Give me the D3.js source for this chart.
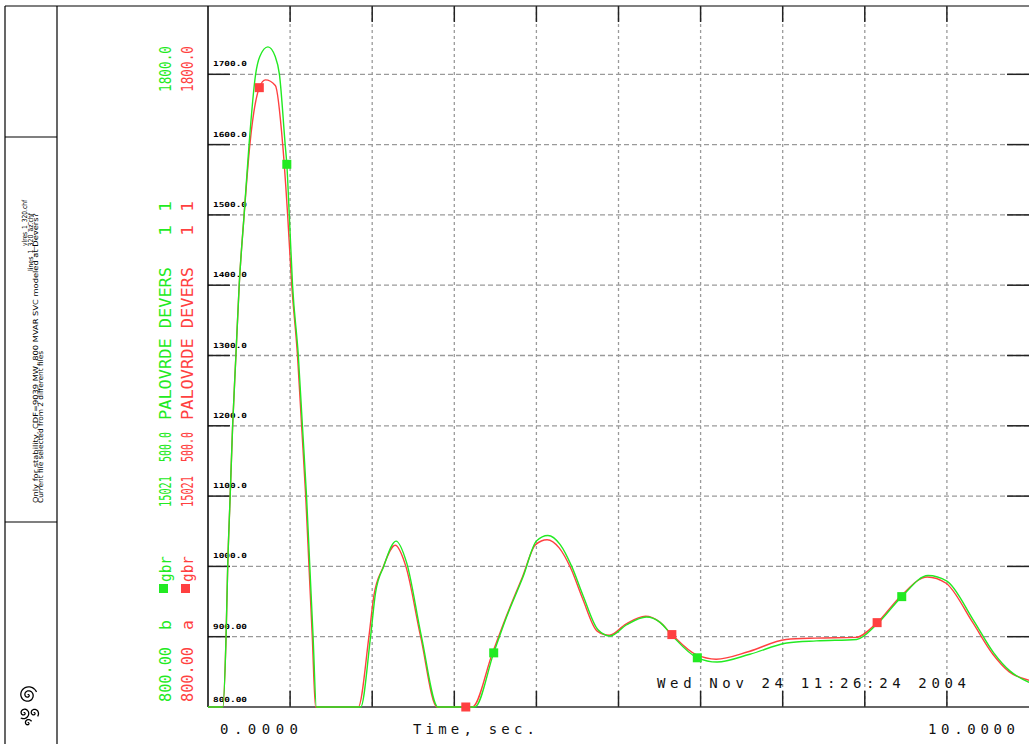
<!DOCTYPE html>
<html>
<head>
<meta charset="utf-8">
<script src="https://cdn.jsdelivr.net/npm/d3@7"></script>
<style>
body { margin: 0; background: #fff; }
svg { display: block; }
</style>
</head>
<body>
<div id="chart"></div>
<script>
// ---- data ----
const greenTime = [0,0.18,0.22,0.24,0.27,0.30,0.34,0.38,0.44,0.50,0.58,0.63,0.73,0.82,0.87,0.94,0.96,0.99,1.03,1.10,1.15,1.20,1.24,1.28,1.32,1.86,1.98,2.04,2.14,2.29,2.42,2.60,2.80,3.25,3.48,3.64,3.84,4.00,4.14,4.29,4.43,4.57,4.75,4.90,5.10,5.34,5.51,5.65,5.96,6.20,6.60,7.05,7.41,7.90,8.15,8.45,8.77,9.00,9.32,9.57,9.77,10.0]
const greenValue = [800,800,900,1000,1100,1200,1300,1400,1500,1600,1700,1725,1739,1725,1700,1600,1572,1500,1400,1300,1200,1100,1000,900,800,800,900,962,1000,1036,1005,900,800,800,877,929,986,1036,1044,1031,1000,958,910,901,917,928,920,902,870,864,875,891,894,896,918,957,987,979,924,877,851,835]

const redTime = [0,0.18,0.22,0.24,0.27,0.30,0.34,0.38,0.44,0.51,0.625,0.70,0.82,0.91,0.97,1.02,1.09,1.14,1.19,1.23,1.27,1.31,1.83,1.96,2.02,2.13,2.28,2.41,2.59,2.79,3.14,3.22,3.46,3.63,3.83,3.99,4.13,4.28,4.42,4.56,4.74,4.89,5.09,5.33,5.50,5.65,5.95,6.19,6.59,7.04,7.40,7.89,8.15,8.44,8.76,8.99,9.31,9.56,9.76,10.0]
const redValue = [800,800,900,1000,1100,1200,1300,1400,1500,1600,1681,1692,1684,1600,1500,1400,1300,1200,1100,1000,900,800,800,900,958,998,1030,1000,900,800,800,800,875,928,985,1031,1038,1026,997,955,908,902,918,929,921,903,874,868,879,896,898,899,920,958,985,976,921,875,850,838]

const greenMarkTime = [0.96, 3.48, 5.96, 8.45]
const greenMarkValue = [1572, 877, 870, 957]
const redMarkTime = [0.625, 3.14, 5.65, 8.15]
const redMarkValue = [1681, 800, 903, 920]

const yTicks = [800,900,1000,1100,1200,1300,1400,1500,1600,1700]
const yTickLabels = ["800.00","900.00","1000.0","1100.0","1200.0","1300.0","1400.0","1500.0","1600.0","1700.0"]
const xTicks = [1,2,3,4,5,6,7,8,9]
const xEndLabels = ["0.0000", "10.0000"]
const xTitle = "Time, sec."
const stamp = "Wed Nov 24 11:26:24 2004"

const legendGreen = ["800.00","b","gbr","15021","500.0","PALOVRDE DEVERS","1","1","1800.0"]
const legendRed = ["800.00","a","gbr","15021","500.0","PALOVRDE DEVERS","1","1","1800.0"]

const noteLines = [
	"vlres_1_320.chf",
	"lines_1_320_az.chf",
	"Only for stability, CDF=9039 MW, 800 MVAR SVC modeled at Devers?",
	"Current file selected from 2 different files"
]

// ---- drawing ----
const width = 1029, height = 744
const green = '#22ea22', red = '#ff4040'
const mono = "'DejaVu Sans Mono', monospace"

const svg = d3.select('#chart').append('svg')
.attr('width', width)
.attr('height', height)

const plot = {left:208, right:1029, top:6, bottom:707}

const xScale = d3.scaleLinear().domain([0, 10]).range([plot.left, plot.right])
const yScale = d3.scaleLinear().domain([800, 1800]).range([plot.bottom, 4]).clamp(true)

// frame of the left info panel
const frame = svg.append('g').attr('stroke', '#000').attr('stroke-width', 1.2)
frame.append('line').attr('x1', 5).attr('x2', width).attr('y1', 6).attr('y2', 6)
frame.append('line').attr('x1', 5).attr('x2', 5).attr('y1', 6).attr('y2', height)
frame.append('line').attr('x1', 57).attr('x2', 57).attr('y1', 6).attr('y2', height)
frame.append('line').attr('x1', 5).attr('x2', 57).attr('y1', 137).attr('y2', 137)
frame.append('line').attr('x1', 5).attr('x2', 57).attr('y1', 522).attr('y2', 522)

// notes, rotated; first two lines end near the top, the others start at the bottom
const noteX = [27, 32.5, 37.5, 43]
const noteEnd = [true, true, false, false]
const noteY = [200, 213, 503, 503]
const noteLen = [46, 58, 290, 152]
noteLines.forEach((t, i) => {
	const y0 = noteEnd[i] ? noteY[i] + noteLen[i] : noteY[i]
	svg.append('text')
	.attr('transform', `translate(${noteX[i]},${y0}) rotate(-90)`)
	.attr('font-family', "'DejaVu Sans Condensed', 'DejaVu Sans', sans-serif")
	.attr('font-size', 7)
	.attr('fill', '#000')
	.attr('textLength', noteLen[i])
	.attr('lengthAdjust', 'spacingAndGlyphs')
	.text(t)
})

// little logo scribble
const logo = svg.append('g').attr('transform', 'translate(28,705) rotate(-90)')
.attr('fill', 'none').attr('stroke', '#000').attr('stroke-width', 1.3)
const spiral = (cx, cy, r0, turns) => {
	const pts = d3.range(0, turns * 2 * Math.PI, 0.2).map(a => {
		const r = r0 * a / (turns * 2 * Math.PI)
		return [cx + r * Math.cos(a), cy + r * Math.sin(a)]
	})
	return d3.line().curve(d3.curveCatmullRom)(pts)
}
logo.append('path').attr('d', spiral(10, 0, 9, 2.2))
logo.append('path').attr('d', spiral(-8, -4, 6, 1.6))
logo.append('path').attr('d', spiral(-8, 6, 5, 1.4))
logo.append('path').attr('d', spiral(-18, 0, 4, 1.2))

// grid
const grid = svg.append('g')
grid.selectAll('.vgrid').data(xTicks).join('line')
.attr('x1', d => xScale(d)).attr('x2', d => xScale(d))
.attr('y1', plot.top).attr('y2', plot.bottom)
.attr('stroke', '#9a9a9a').attr('stroke-width', 1.3).attr('stroke-dasharray', '3,3')

grid.selectAll('.hgrid').data(yTicks.filter(d => d > 800)).join('line')
.attr('x1', plot.left).attr('x2', plot.right)
.attr('y1', d => yScale(d)).attr('y2', d => yScale(d))
.attr('stroke', '#9a9a9a').attr('stroke-width', 1.3).attr('stroke-dasharray', '5,3')

// solid tick stubs
const ticks = svg.append('g').attr('stroke', '#222').attr('stroke-width', 1.5)
ticks.selectAll('.bt').data(xTicks).join('line')
.attr('x1', d => xScale(d)).attr('x2', d => xScale(d))
.attr('y1', plot.bottom - 16).attr('y2', plot.bottom)
ticks.selectAll('.tt').data(xTicks).join('line')
.attr('x1', d => xScale(d)).attr('x2', d => xScale(d))
.attr('y1', plot.top).attr('y2', plot.top + 16)
ticks.selectAll('.lt').data(yTicks.filter(d => d > 800)).join('line')
.attr('x1', plot.left).attr('x2', plot.left + 22)
.attr('y1', d => yScale(d)).attr('y2', d => yScale(d))
ticks.selectAll('.rt').data(yTicks.filter(d => d > 800)).join('line')
.attr('x1', plot.right - 22).attr('x2', plot.right)
.attr('y1', d => yScale(d)).attr('y2', d => yScale(d))

// axes
svg.append('line').attr('x1', plot.left).attr('x2', plot.left)
.attr('y1', plot.top).attr('y2', plot.bottom).attr('stroke', '#000').attr('stroke-width', 1.5)
svg.append('line').attr('x1', plot.left).attr('x2', plot.right)
.attr('y1', plot.bottom).attr('y2', plot.bottom).attr('stroke', '#333').attr('stroke-width', 1.5)

// y tick labels (tiny, inside plot)
svg.selectAll('.ylab').data(yTicks).join('text')
.attr('x', plot.left + 5)
.attr('y', d => yScale(d) - (d == 800 ? 5 : 8))
.attr('font-family', mono).attr('font-size', 7).attr('font-weight', 'bold')
.attr('textLength', 34).attr('lengthAdjust', 'spacingAndGlyphs')
.text((d, i) => yTickLabels[i])

// x labels
const axisText = (x, y, t, len) => svg.append('text')
.attr('x', x).attr('y', y)
.attr('font-family', mono).attr('font-size', 14).attr('fill', '#111')
.attr('textLength', len).attr('lengthAdjust', 'spacing')
.text(t)

axisText(xScale(0) + 12, 734, xEndLabels[0], 78)
axisText(xScale(10) - 101, 734, xEndLabels[1], 87)
axisText(413, 734, xTitle, 122)
axisText(657, 688, stamp, 309)

// series
const toPoints = (ts, vs) => ts.map((t, i) => ({t:t, v:vs[i]}))
const line = d3.line().curve(d3.curveMonotoneX)
.x(d => xScale(d.t)).y(d => yScale(d.v))

const lines = svg.append('g').attr('fill', 'none')
lines.append('path').attr('d', line(toPoints(redTime, redValue)))
.attr('stroke', red).attr('stroke-width', 1.4)
lines.append('path').attr('d', line(toPoints(greenTime, greenValue)))
.attr('stroke', green).attr('stroke-width', 1.4)

const dots = svg.append('g')
const sq = 9
dots.selectAll('.rm').data(toPoints(redMarkTime, redMarkValue)).join('rect')
.attr('x', d => xScale(d.t) - sq / 2).attr('y', d => yScale(d.v) - sq / 2)
.attr('width', sq).attr('height', sq).attr('fill', red)
dots.selectAll('.gm').data(toPoints(greenMarkTime, greenMarkValue)).join('rect')
.attr('x', d => xScale(d.t) - sq / 2).attr('y', d => yScale(d.v) - sq / 2)
.attr('width', sq).attr('height', sq).attr('fill', green)

// rotated legend columns: [bottom, top] of each piece along y
const legendSpan = [[702,647],[630,620],[582,556],[507,476],[462,432],[420,267],[236,225],[212,201],[92,46]]
const legendColumn = (labels, baseX, color) => {
	const g = svg.append('g').attr('fill', color)
	labels.forEach((t, i) => {
		const [y0, y1] = legendSpan[i]
		g.append('text')
		.attr('transform', `translate(${baseX},${y0}) rotate(-90)`)
		.attr('font-family', mono).attr('font-size', 16)
		.attr('textLength', y0 - y1).attr('lengthAdjust', 'spacingAndGlyphs')
		.text(t)
	})
	g.append('rect').attr('x', baseX - 12).attr('y', 584).attr('width', 9).attr('height', 9)
}
legendColumn(legendGreen, 171, green)
legendColumn(legendRed, 193, red)
</script>
</body>
</html>
